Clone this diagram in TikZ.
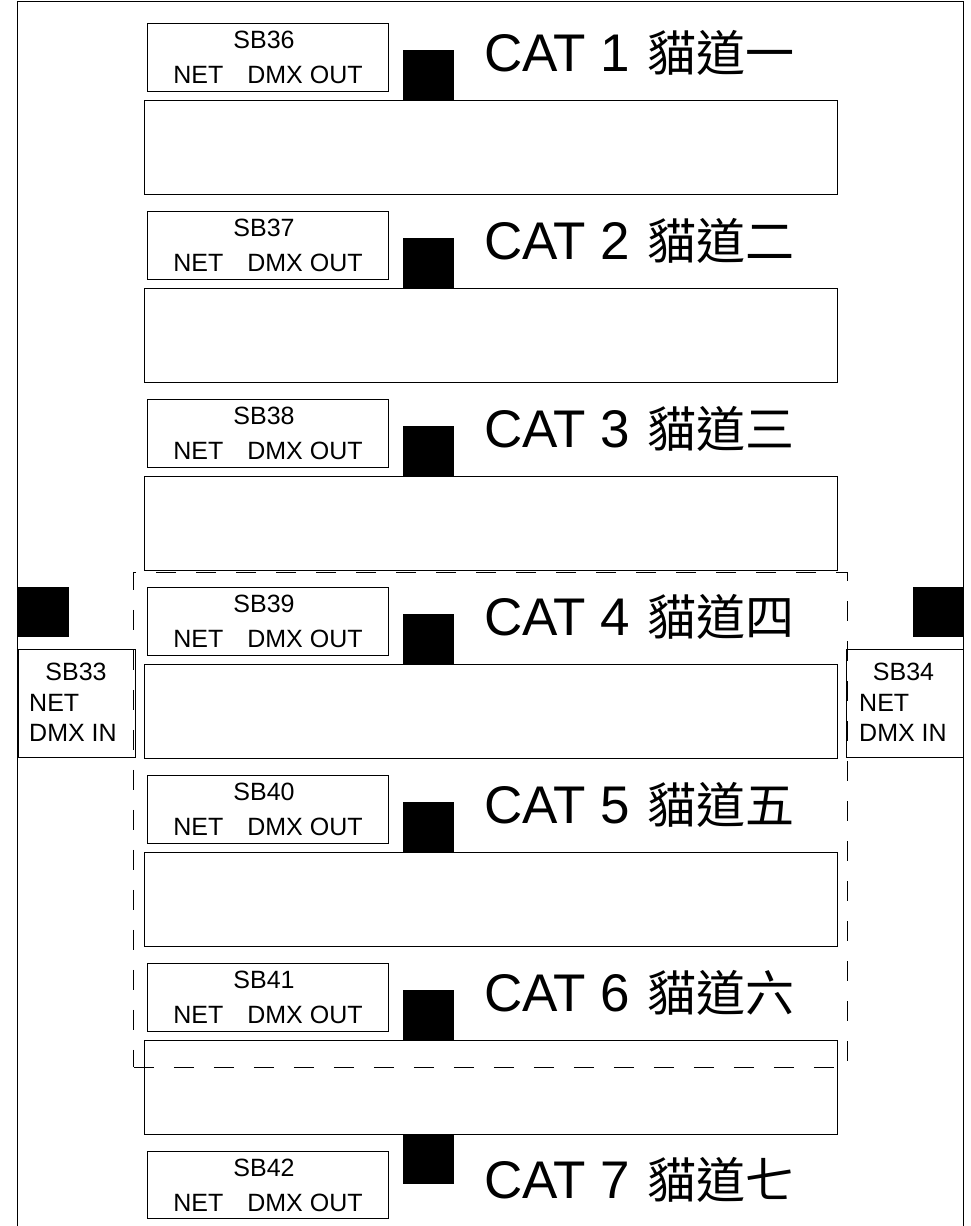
\documentclass[tikz,border=0pt]{standalone}
\usepackage{fontspec}
\setmainfont{Liberation Sans}
\newfontfamily\cjk{Noto Sans CJK TC}
\begin{document}
\begin{tikzpicture}[x=1pt,y=-1pt,
  outer/.style={line width=1.5pt},
  lane/.style={draw, line width=1.3pt, minimum width=693.2pt, minimum height=93.5pt, anchor=north west, inner sep=0pt},
  sbbox/.style={draw, line width=1pt, minimum width=241.6pt, minimum height=67.4pt, anchor=north west, inner sep=0pt},
  conn/.style={fill=black, minimum width=51pt, minimum height=50pt, inner sep=0pt},
  sbtxt/.style={inner sep=0pt, font=\fontsize{25}{29}\selectfont},
  cattxt/.style={anchor=base west, inner sep=0pt, font=\fontsize{53}{57}\selectfont},
  zhtxt/.style={anchor=base west, inner sep=0pt, font=\fontsize{49}{53}\cjk},
  sidebox/.style={draw, line width=1pt, minimum height=107.5pt, anchor=north west, inner sep=0pt},
  grp/.style={draw, line width=1pt, dash pattern=on 20pt off 20pt, anchor=north west, minimum width=713.7pt, minimum height=495pt, inner sep=0pt}]
\useasboundingbox (0,0) rectangle (970,1226);
% outer frame (open at the bottom)
\coordinate (fbl) at (17.5,1226);
\coordinate (ftl) at (17.5,1.7);
\coordinate (ftr) at (963.3,1.7);
\coordinate (fbr) at (963.3,1226);
\draw[outer] (fbl) -- (ftl) -- (ftr) -- (fbr);
% rows 1-6
\foreach \k/\sb/\n/\zh in {0/36/1/一, 1/37/2/二, 2/38/3/三, 3/39/4/四, 4/40/5/五, 5/41/6/六} {
  \pgfmathsetmacro\dy{188*\k}
  \node[lane] (lane\n) at (143.5,100+\dy) {};
  \node[sbbox] (sb\sb) at (146.7,23.3+\dy) {};
  \node[sbtxt] (sbl\sb) at (264,40+\dy) {SB\sb};
  \node[sbtxt] (sbp\sb) at (268,75+\dy) {NET\hspace{24pt}DMX OUT};
  \node[conn, anchor=south west] (c\n) at (402.7,100+\dy) {};
  \node[cattxt] (cat\n) at (484,71.7+\dy) {CAT \n};
  \node[zhtxt] (zh\n) at (647,71.7+\dy) {貓道\zh};
}
% row 7
\node[sbbox] (sb42) at (146.7,1151) {};
\node[sbtxt] (sbl42) at (264,1168) {SB42};
\node[sbtxt] (sbp42) at (268,1203) {NET\hspace{24pt}DMX OUT};
\node[conn, anchor=north west] (c7) at (402.7,1133.5) {};
\node[cattxt] (cat7) at (484,1198.7) {CAT 7};
\node[zhtxt] (zh7) at (647,1198.7) {貓道七};
% side inputs
\node[conn, anchor=north west] (inL) at (17.5,586.7) {};
\node[sidebox, minimum width=117.5pt] (sb33) at (17.5,649.3) {};
\node[sbtxt] (sbl33) at (76,672) {SB33};
\node[sbtxt, anchor=west] (net33) at (29,703) {NET};
\node[sbtxt, anchor=west] (dmx33) at (29,733) {DMX IN};
\node[conn, anchor=north west] (inR) at (912.3,586.7) {};
\node[sidebox, minimum width=117.3pt] (sb34) at (846,649.3) {};
\node[sbtxt] (sbl34) at (903.5,672) {SB34};
\node[sbtxt, anchor=west] (net34) at (859,703) {NET};
\node[sbtxt, anchor=west] (dmx34) at (859,733) {DMX IN};
% dashed group
\node[grp] (group) at (133.3,571.7) {};
\end{tikzpicture}
\end{document}
